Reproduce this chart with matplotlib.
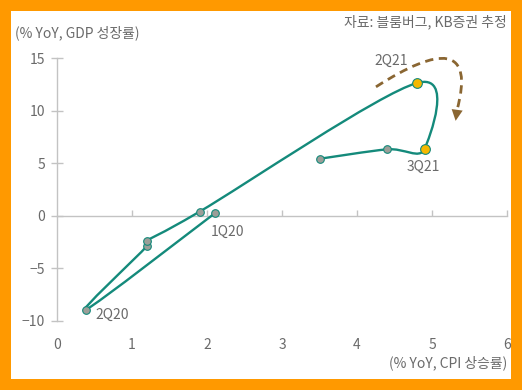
import matplotlib.pyplot as plt
import numpy as np
from matplotlib.path import Path
from matplotlib.patches import PathPatch, Rectangle, FancyArrowPatch

plt.rcParams['font.family'] = ['Noto Sans CJK KR', 'DejaVu Sans']

# CPI (x) vs GDP (y), % YoY, 1Q20 .. 1Q22E
quarters = ['1Q20', '2Q20', '3Q20', '4Q20', '1Q21', '2Q21', '3Q21', '4Q21E', '1Q22E']
cpi = [2.11, 0.38, 1.20, 1.20, 1.90, 4.80, 4.90, 4.40, 3.51]
gdp = [0.29, -8.95, -2.86, -2.35, 0.41, 12.67, 6.38, 6.35, 5.46]
highlight = ['2Q21', '3Q21']
labelled = {'1Q20': (2.27, -1.52), '2Q20': (0.74, -9.43),
            '2Q21': (4.45, 14.75), '3Q21': (4.89, 4.67)}

x_ticks = [0, 1, 2, 3, 4, 5, 6]
y_ticks = [-10, -5, 0, 5, 10, 15]

teal = '#148a7b'
axis_gray = '#c3c3c3'
text_gray = '#6a6a6a'
brown = '#8a6632'

fig = plt.figure(figsize=(5.22, 3.9), dpi=100)
fig.patch.set_facecolor('#ff9900')
fig.add_artist(Rectangle((11 / 522, 1 - 379 / 390), 500 / 522, 368 / 390,
                         transform=fig.transFigure, facecolor='white',
                         edgecolor='none', zorder=-1))

ax = fig.add_axes([57 / 522, 1 - 321 / 390, 450 / 522, 262.5 / 390])
ax.patch.set_visible(False)
ax.set_xlim(0, 6)
ax.set_ylim(-10, 15)

for s in ['top', 'right']:
    ax.spines[s].set_visible(False)
ax.spines['bottom'].set_position(('data', 0))
for s in ['left', 'bottom']:
    ax.spines[s].set_color(axis_gray)
    ax.spines[s].set_linewidth(1)

ax.set_yticks(y_ticks)
ax.set_xticks(x_ticks[1:])
ax.tick_params(axis='y', direction='inout', length=9, width=1, color=axis_gray,
               labelcolor=text_gray, labelsize=10, pad=4)
ax.tick_params(axis='x', direction='in', length=4.5, width=1, color=axis_gray,
               labelbottom=False)

sec = ax.secondary_xaxis('bottom')
sec.set_xticks(x_ticks)
sec.spines['bottom'].set_visible(False)
sec.tick_params(axis='x', length=0, labelcolor=text_gray, labelsize=10, pad=12)

# smoothed line (Catmull-Rom as cubic Bezier)
pts = np.column_stack([cpi, gdp])
ext = np.vstack([pts[0], pts, pts[-1]])
verts = [tuple(pts[0])]
codes = [Path.MOVETO]
for i in range(len(pts) - 1):
    p0, p1, p2, p3 = ext[i], ext[i + 1], ext[i + 2], ext[i + 3]
    c1 = p1 + (p2 - p0) / 6
    c2 = p2 - (p3 - p1) / 6
    verts += [tuple(c1), tuple(c2), tuple(p2)]
    codes += [Path.CURVE4] * 3
ax.add_patch(PathPatch(Path(verts, codes), facecolor='none', edgecolor=teal,
                       lw=1.7, zorder=3))

for q, x, y in zip(quarters, cpi, gdp):
    if q in highlight:
        ax.plot(x, y, 'o', ms=7, mfc='#f5b800', mec=teal, mew=0.8, zorder=4)
    else:
        ax.plot(x, y, 'o', ms=5.5, mfc='#9c9e98', mec=teal, mew=0.8, zorder=4)

for q, (tx, ty) in labelled.items():
    ax.text(tx, ty, q, color=text_gray, fontsize=10, ha='center', va='center')

# dashed curved arrow
arr_path = Path([(4.253, 12.3), (5.107, 16.2), (5.573, 16.286), (5.33, 10.0)],
                [Path.MOVETO, Path.CURVE4, Path.CURVE4, Path.CURVE4])
ax.add_patch(PathPatch(arr_path, facecolor='none', edgecolor=brown, lw=2,
                       ls=(0, (3, 2)), clip_on=False, zorder=2))
ax.add_patch(FancyArrowPatch((5.345, 10.6), (5.31, 8.8), arrowstyle='-|>',
                             mutation_scale=20, color=brown, lw=0,
                             clip_on=False, zorder=2))

fig.text(15 / 522, 1 - 33 / 390, '(% YoY, GDP 성장률)', color=text_gray,
         fontsize=10, ha='left', va='center')
fig.text(507 / 522, 1 - 22 / 390, '자료: 블룸버그, KB증권 추정', color=text_gray,
         fontsize=10, ha='right', va='center')
fig.text(507 / 522, 1 - 363 / 390, '(% YoY, CPI 상승률)', color=text_gray,
         fontsize=10, ha='right', va='center')

plt.savefig('out.png', dpi=100, facecolor=fig.get_facecolor())
